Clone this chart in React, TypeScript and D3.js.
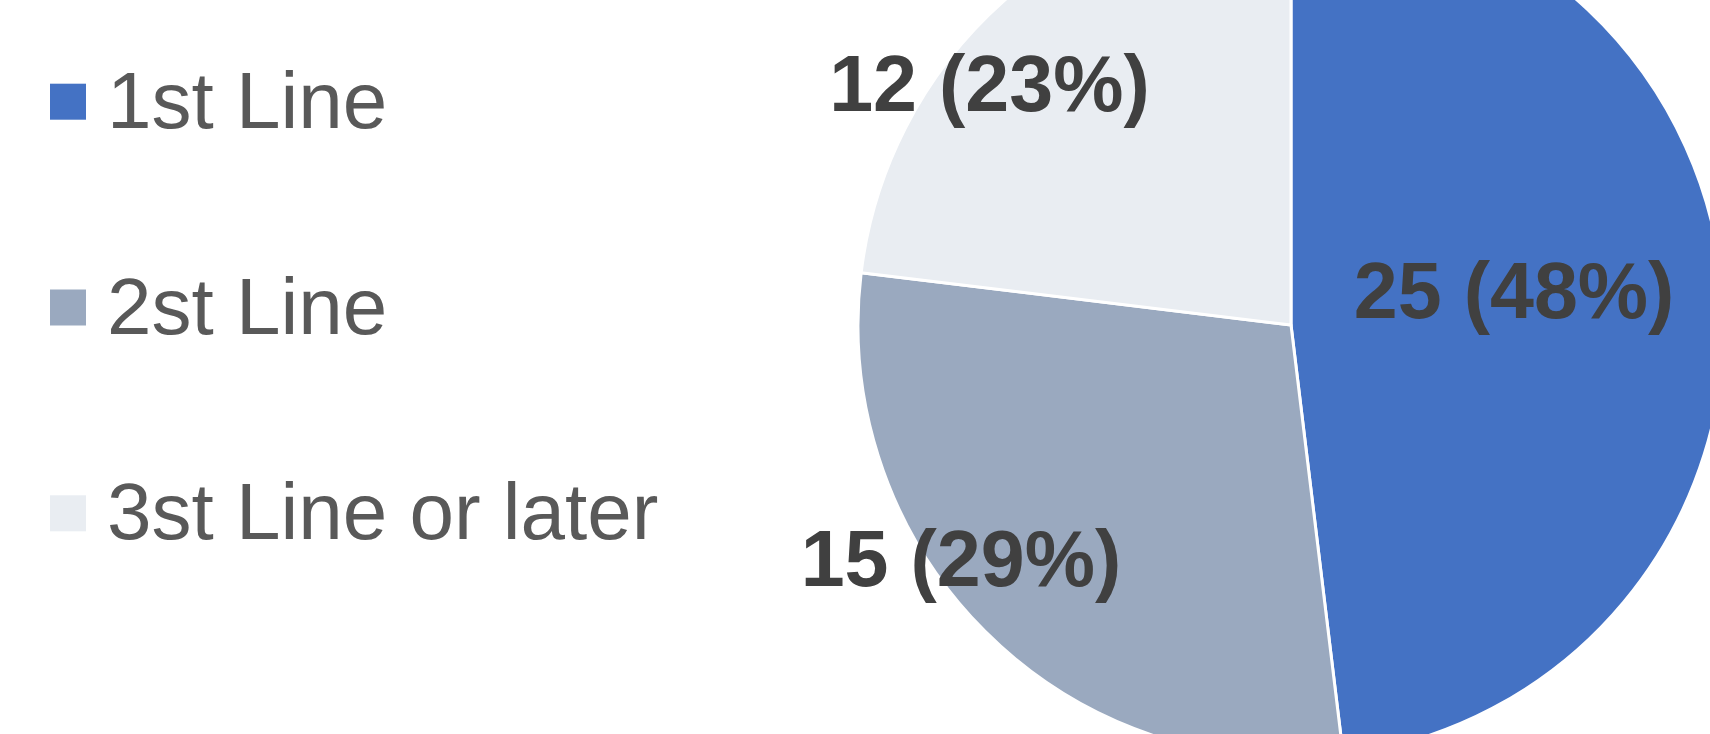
import * as d3 from 'd3';

// data
const categories = ['1st Line', '2st Line', '3st Line or later'];
const counts = [25, 15, 12];
const colors = ['#4472C4', '#9AA9BF', '#E9EDF2'];
// best-fit label nudges (relative to each slice centroid)
const labelNudge: [number, number][] = [[7, -22], [-177, 79], [-158, -80]];

const width = 1710;
const height = 734;
const cx = 1291;
const cy = 325;
const radius = 433;
const font = '"Liberation Sans", Arial, sans-serif';

export default function App() {
  const total = d3.sum(counts);
  const pie = d3.pie<number>().sort(null).startAngle(0).endAngle(2 * Math.PI);
  const arcs = pie(counts);
  const arc = d3.arc<d3.PieArcDatum<number>>().innerRadius(0).outerRadius(radius);

  const legendY = d3.scaleLinear().domain([0, 1]).range([101.7, 307.5]);

  return (
    <>
      <style>{'body{margin:0;overflow:hidden;background:#fff}'}</style>
      <svg width={width} height={height} style={{ display: 'block' }}>
        <rect width={width} height={height} fill='#fff' />
        <g transform={`translate(${cx},${cy})`}>
          {arcs.map((a, i) => (
            <path key={i} d={arc(a) || ''} fill={colors[i]} stroke='#fff' strokeWidth={3} strokeLinejoin='round' />
          ))}
          {arcs.map((a, i) => {
            const [x, y] = arc.centroid(a);
            const pct = Math.round((a.data / total) * 100);
            return (
              <text
                key={i}
                x={x + labelNudge[i][0]}
                y={y + labelNudge[i][1] + 28.5}
                textAnchor='middle'
                fontFamily={font}
                fontWeight='bold'
                fontSize={79}
                fill='#404040'
              >
                {`${a.data} (${pct}%)`}
              </text>
            );
          })}
        </g>
        <g>
          {categories.map((c, i) => (
            <g key={c} transform={`translate(0,${legendY(i)})`}>
              <rect x={50} y={-18} width={36} height={36} fill={colors[i]} />
              <text x={107} y={26} fontFamily={font} fontSize={80} fill='#595959'>{c}</text>
            </g>
          ))}
        </g>
      </svg>
    </>
  );
}
